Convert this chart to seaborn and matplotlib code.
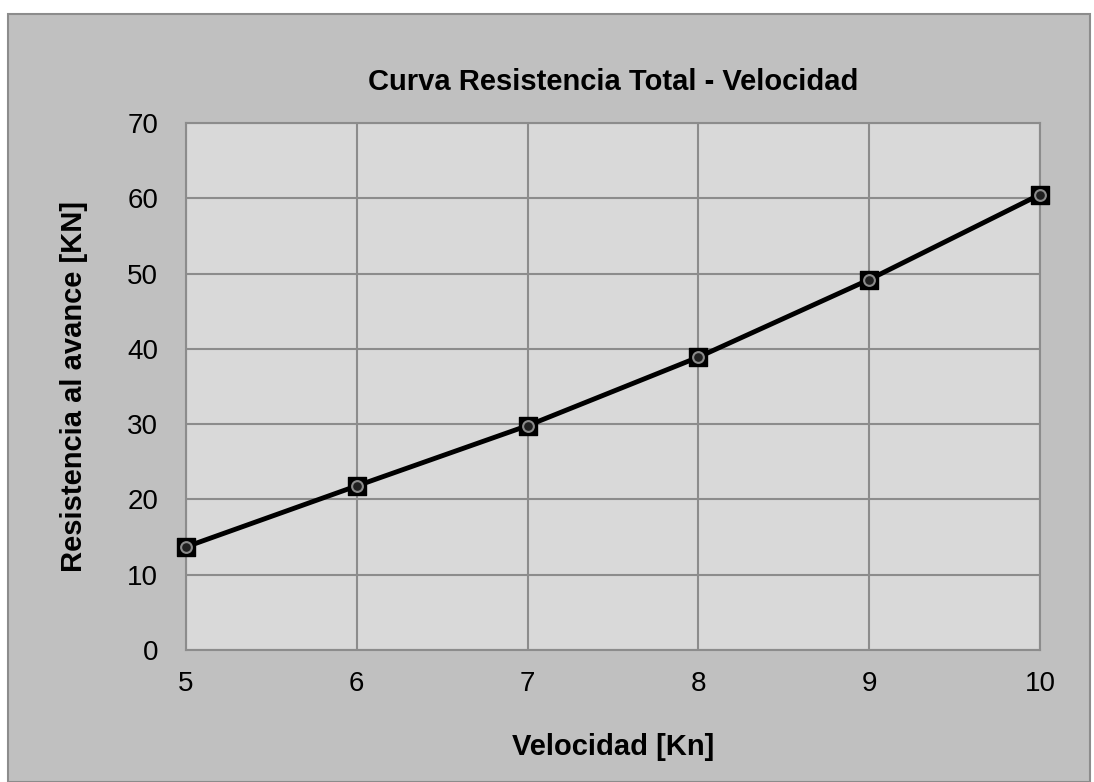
"""Curva de resistencia total frente a velocidad."""
import matplotlib

matplotlib.use("Agg")
import matplotlib.pyplot as plt
import pandas as pd
import seaborn as sns
from matplotlib.patches import Rectangle

velocidad = [5, 6, 7, 8, 9, 10]
resistencia = [13.7, 21.8, 29.8, 38.9, 49.2, 60.5]
x_ticks = [5, 6, 7, 8, 9, 10]
y_ticks = [0, 10, 20, 30, 40, 50, 60, 70]

sns.set_theme(style="whitegrid")
plt.rcParams["font.family"] = ["Liberation Sans", "DejaVu Sans"]

df = pd.DataFrame({"v": velocidad, "r": resistencia})

fig = plt.figure(figsize=(10.94, 7.82), dpi=100)
fig.patch.set_facecolor("white")
# outer chart frame, kept behind the axes
frame = Rectangle((8 / 1094, 0), 1082 / 1094, 1 - 14 / 782, transform=fig.transFigure,
                  facecolor="#c0c0c0", edgecolor="#8c8c8c", lw=1.5, zorder=-10)
fig.add_artist(frame)

ax = fig.add_axes([186 / 1094, 1 - 650 / 782, 854 / 1094, 527 / 782])
ax.set_facecolor("#d9d9d9")

sns.lineplot(data=df, x="v", y="r", ax=ax, color="black", lw=3.5, zorder=3)
sns.scatterplot(data=df, x="v", y="r", ax=ax, marker="s", s=150, color="black",
                edgecolor="black", zorder=4, clip_on=False)
sns.scatterplot(data=df, x="v", y="r", ax=ax, marker="o", s=60, color="#202020",
                edgecolor="#8a8a8a", linewidth=1.5, zorder=5, clip_on=False)

ax.set_xlim(5, 10)
ax.set_ylim(0, 70)
ax.set_xticks(x_ticks)
ax.set_yticks(y_ticks)
ax.grid(True, color="#8c8c8c", lw=1.5)
for s in ax.spines.values():
    s.set_color("#8c8c8c")
    s.set_linewidth(1.5)
ax.tick_params(axis="x", labelsize=20, colors="black", pad=9)
ax.tick_params(axis="y", labelsize=20, colors="black", pad=14)

ax.set_xlabel("Velocidad [Kn]", fontsize=21, fontweight="bold", color="black", labelpad=26)
ax.set_ylabel("Resistencia al avance [KN]", fontsize=21, fontweight="bold", color="black",
              labelpad=28)
ax.set_title("Curva Resistencia Total - Velocidad", fontsize=21, fontweight="bold",
             color="black", pad=24)

fig.savefig("out.png", dpi=100)
